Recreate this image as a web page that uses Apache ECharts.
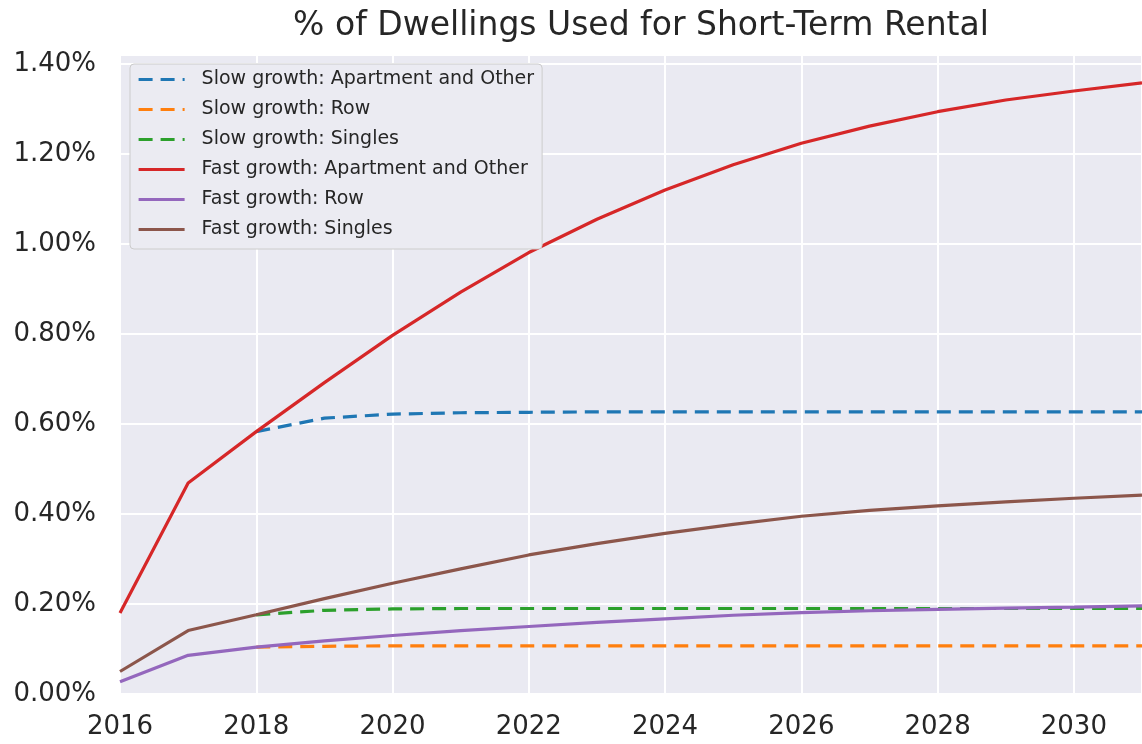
<!DOCTYPE html>
<html>
<head>
<meta charset="utf-8">
<script src="https://cdn.jsdelivr.net/npm/echarts@6/dist/echarts.min.js"></script>
<style>
  html, body { margin: 0; padding: 0; background: #fff; }
  #chart { width: 1142px; height: 744px; }
</style>
</head>
<body>
<div id="chart"></div>
<script>
// years on the x axis
var years = [2016, 2017, 2018, 2019, 2020, 2021, 2022, 2023, 2024, 2025, 2026, 2027, 2028, 2029, 2030, 2031];

// values in percent; null = no point that year
var slowApartment = [null, null, 0.583, 0.613, 0.622, 0.625, 0.626, 0.627, 0.627, 0.627, 0.627, 0.627, 0.627, 0.627, 0.627, 0.627];
var slowRow       = [null, null, 0.104, 0.106, 0.107, 0.107, 0.107, 0.107, 0.107, 0.107, 0.107, 0.107, 0.107, 0.107, 0.107, 0.107];
var slowSingles   = [null, null, 0.176, 0.186, 0.189, 0.190, 0.190, 0.190, 0.190, 0.190, 0.190, 0.190, 0.190, 0.190, 0.190, 0.190];
var fastApartment = [0.180, 0.469, 0.583, 0.692, 0.797, 0.893, 0.981, 1.055, 1.120, 1.176, 1.224, 1.262, 1.294, 1.320, 1.340, 1.358];
var fastRow       = [0.027, 0.086, 0.104, 0.118, 0.130, 0.141, 0.150, 0.159, 0.167, 0.175, 0.181, 0.185, 0.188, 0.191, 0.193, 0.196];
var fastSingles   = [0.050, 0.141, 0.176, 0.212, 0.246, 0.278, 0.309, 0.334, 0.357, 0.377, 0.395, 0.408, 0.418, 0.427, 0.435, 0.442];

var yTicks = [0, 0.2, 0.4, 0.6, 0.8, 1.0, 1.2, 1.4];

function pairs(vals) {
  var out = [];
  for (var i = 0; i < years.length; i++) {
    if (vals[i] != null) out.push([years[i], vals[i]]);
  }
  return out;
}

function line(name, vals, color, dashed) {
  return {
    name: name,
    type: 'line',
    data: pairs(vals),
    showSymbol: false,
    symbol: 'none',
    silent: true,
    color: color,
    lineStyle: { color: color, width: 3.2, type: dashed ? [14, 8] : 'solid' }
  };
}

var font = 'DejaVu Sans';
var chart = echarts.init(document.getElementById('chart'));
var option = {
  backgroundColor: '#ffffff',
  animation: false,
  title: {
    text: '% of Dwellings Used for Short-Term Rental',
    left: 636,
    textAlign: 'center',
    top: 5,
    textStyle: { fontFamily: font, fontSize: 33, fontWeight: 'normal', color: '#262626' }
  },
  legend: {
    orient: 'vertical',
    left: 130,
    top: 64,
    padding: [6, 8, 10, 7],
    itemGap: 11,
    itemWidth: 46,
    itemHeight: 14,
    backgroundColor: '#EBEBF2',
    borderColor: '#CCCCCC',
    borderWidth: 1,
    borderRadius: 4,
    itemStyle: { opacity: 0 },
    lineStyle: { width: 3.2 },
    textStyle: { fontFamily: font, fontSize: 19, color: '#262626', padding: [0, 0, 0, 12] }
  },
  grid: {
    left: 120,
    top: 55,
    right: -9,
    bottom: 50,
    show: true,
    backgroundColor: '#EAEAF2',
    borderWidth: 0
  },
  xAxis: {
    type: 'value',
    min: 2016,
    max: 2031,
    interval: 2,
    axisLine: { show: false },
    axisTick: { show: false },
    splitLine: { show: true, lineStyle: { color: '#ffffff', width: 2 } },
    axisLabel: {
      margin: 20,
      fontFamily: font,
      fontSize: 26,
      color: '#262626',
      showMaxLabel: false,
      formatter: function (v) { return v % 2 === 0 ? String(v) : ''; }
    }
  },
  yAxis: {
    type: 'value',
    min: 0,
    max: 1.42,
    interval: 0.2,
    axisLine: { show: false },
    axisTick: { show: false },
    splitLine: { show: true, lineStyle: { color: '#ffffff', width: 2 } },
    axisLabel: {
      margin: 24,
      fontFamily: font,
      fontSize: 26,
      color: '#262626',
      showMaxLabel: false,
      formatter: function (v) {
        for (var i = 0; i < yTicks.length; i++) {
          if (Math.abs(v - yTicks[i]) < 1e-6) return v.toFixed(2) + '%';
        }
        return '';
      }
    }
  },
  series: [
    line('Slow growth: Apartment and Other', slowApartment, '#1f77b4', true),
    line('Slow growth: Row', slowRow, '#ff7f0e', true),
    line('Slow growth: Singles', slowSingles, '#2ca02c', true),
    line('Fast growth: Apartment and Other', fastApartment, '#d62728', false),
    line('Fast growth: Row', fastRow, '#9467bd', false),
    line('Fast growth: Singles', fastSingles, '#8c564b', false)
  ]
};
option && chart.setOption(option);
</script>
</body>
</html>
